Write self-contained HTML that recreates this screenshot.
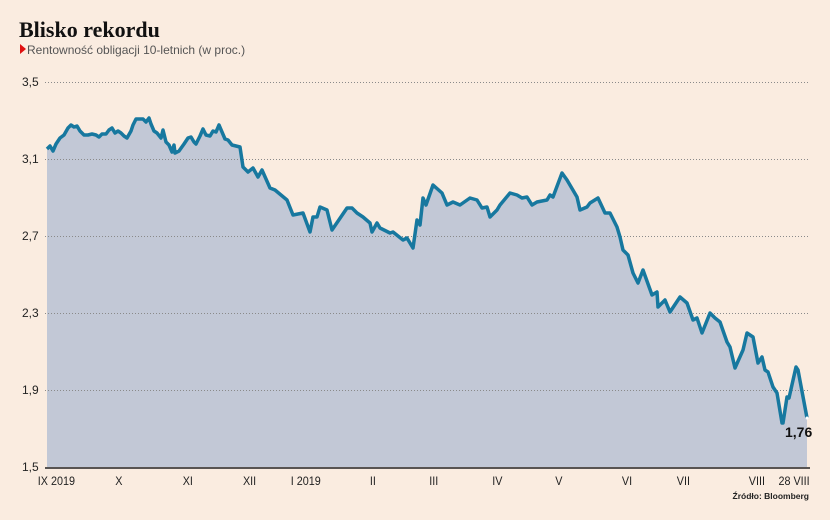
<!DOCTYPE html>
<html><head><meta charset="utf-8"><style>
body{margin:0;background:#faece0;}
svg{display:block}
</style></head><body>
<svg width="830" height="520" viewBox="0 0 830 520" xmlns="http://www.w3.org/2000/svg">
<rect width="830" height="520" fill="#faece0"/>
<text x="19" y="37" font-family="Liberation Serif, serif" font-weight="bold" font-size="22" fill="#111">Blisko rekordu</text>
<polygon points="20,44 26,49 20,54" fill="#e01010"/>
<text x="27" y="54" font-family="Liberation Sans, sans-serif" font-size="12" fill="#555">Rentowność obligacji 10-letnich (w proc.)</text>
<g font-family="Liberation Sans, sans-serif" font-size="12" fill="#222">
<text x="22" y="86">3,5</text><text x="22" y="163">3,1</text><text x="22" y="240">2,7</text>
<text x="22" y="317">2,3</text><text x="22" y="394">1,9</text><text x="22" y="471">1,5</text>
</g>
<polygon fill="#c2c8d6" points="47,467 47,149 50,146 53,151 56,144 60,138 64,135 68,128 71,125 74,127 77,126 80,131 84,135 88,135 92,134 96,135 99,137 102,134 106,134 109,130 112,128 115,133 118,131 121,133 124,136 127,138 131,131 133,125 136,119 140,119 143,119 146,122 149,118 151,124 154,131 157,133 161,138 163,130 166,142 169,145 172,152 174,145 175,153 179,151 184,144 188,138 191,137 194,142 196,144 200,136 203,129 206,135 210,136 213,131 216,132 219,125 222,132 225,139 228,140 232,145 240,147 243,167 248,172 253,168 258,177 262,170 270,188 275,190 287,200 293,215 303,213 310,232 313,217 317,217 320,207 327,210 332,230 347,208 352,208 357,213 363,217 370,223 372,232 377,223 380,228 390,233 393,232 403,240 407,238 413,248 417,220 420,225 423,198 426,205 433,185 442,193 447,205 453,202 460,205 470,198 477,200 482,208 487,207 490,217 497,210 500,205 510,193 517,195 522,198 527,197 532,205 537,202 547,200 550,195 553,197 562,173 567,180 577,197 580,210 587,207 590,203 598,198 605,213 610,213 617,227 620,237 623,250 628,255 633,273 638,283 643,270 652,295 657,292 658,307 665,300 670,312 680,297 687,303 693,320 697,318 702,333 710,313 715,318 720,322 727,342 730,347 735,368 743,350 747,333 753,337 758,363 762,357 765,370 768,372 773,387 777,393 782,423 783,423 787,397 789,398 796,367 798,370 807,418 807,467"/>
<g stroke="#8a8a8a" stroke-width="1" stroke-dasharray="1,2">
<line x1="45" y1="82.5" x2="810" y2="82.5"/><line x1="45" y1="159.5" x2="810" y2="159.5"/>
<line x1="45" y1="236.5" x2="810" y2="236.5"/><line x1="45" y1="313.5" x2="810" y2="313.5"/>
<line x1="45" y1="390.5" x2="810" y2="390.5"/>
</g>
<polyline fill="none" stroke="#17789f" stroke-width="3.5" stroke-linejoin="round" points="47,149 50,146 53,151 56,144 60,138 64,135 68,128 71,125 74,127 77,126 80,131 84,135 88,135 92,134 96,135 99,137 102,134 106,134 109,130 112,128 115,133 118,131 121,133 124,136 127,138 131,131 133,125 136,119 140,119 143,119 146,122 149,118 151,124 154,131 157,133 161,138 163,130 166,142 169,145 172,152 174,145 175,153 179,151 184,144 188,138 191,137 194,142 196,144 200,136 203,129 206,135 210,136 213,131 216,132 219,125 222,132 225,139 228,140 232,145 240,147 243,167 248,172 253,168 258,177 262,170 270,188 275,190 287,200 293,215 303,213 310,232 313,217 317,217 320,207 327,210 332,230 347,208 352,208 357,213 363,217 370,223 372,232 377,223 380,228 390,233 393,232 403,240 407,238 413,248 417,220 420,225 423,198 426,205 433,185 442,193 447,205 453,202 460,205 470,198 477,200 482,208 487,207 490,217 497,210 500,205 510,193 517,195 522,198 527,197 532,205 537,202 547,200 550,195 553,197 562,173 567,180 577,197 580,210 587,207 590,203 598,198 605,213 610,213 617,227 620,237 623,250 628,255 633,273 638,283 643,270 652,295 657,292 658,307 665,300 670,312 680,297 687,303 693,320 697,318 702,333 710,313 715,318 720,322 727,342 730,347 735,368 743,350 747,333 753,337 758,363 762,357 765,370 768,372 773,387 777,393 782,423 783,423 787,397 789,398 796,367 798,370 807,418"/>
<circle cx="807" cy="418" r="1.5" fill="#fff"/>
<line x1="45" y1="468" x2="810" y2="468" stroke="#222" stroke-width="1.5"/>
<text x="785" y="437" font-family="Liberation Sans, sans-serif" font-weight="bold" font-size="14" fill="#111">1,76</text>
<g font-family="Liberation Sans, sans-serif" font-size="12" fill="#222" transform="scale(0.9,1)">
<text x="42" y="485">IX 2019</text><text x="128" y="485">X</text><text x="203" y="485">XI</text>
<text x="270" y="485">XII</text><text x="323" y="485">I 2019</text><text x="411" y="485">II</text>
<text x="477" y="485">III</text><text x="547" y="485">IV</text><text x="617" y="485">V</text>
<text x="691" y="485">VI</text><text x="752" y="485">VII</text><text x="832" y="485">VIII</text>
<text x="865" y="485">28 VIII</text>
</g>
<text x="809" y="499" text-anchor="end" font-family="Liberation Sans, sans-serif" font-size="8.5" font-weight="bold" fill="#222">Źródło: Bloomberg</text>
</svg>
</body></html>
